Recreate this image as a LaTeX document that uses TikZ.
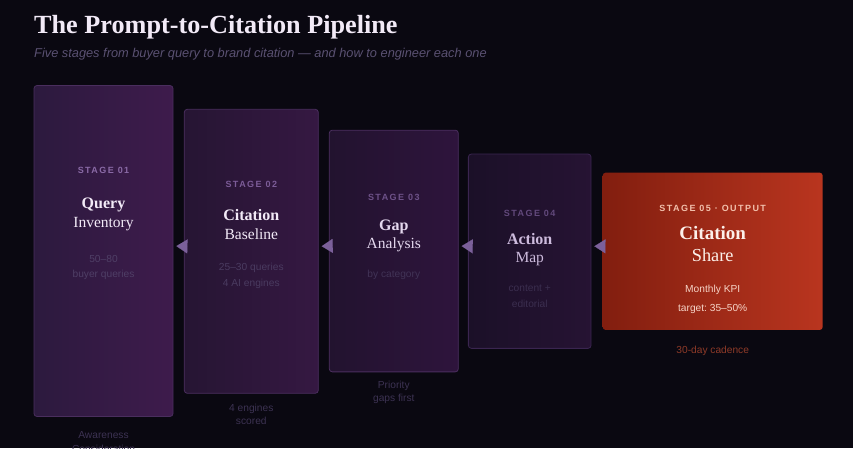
\documentclass[tikz,border=0pt]{standalone}
\usepackage{fontspec}
\setmainfont{Liberation Serif}
\setsansfont{Liberation Sans}
\usepackage{xcolor}
\usetikzlibrary{arrows.meta}
\frenchspacing

\definecolor{bg}{HTML}{0A0811}
\definecolor{headc}{HTML}{F2EAF7}
\definecolor{subc}{HTML}{5A5172}
\definecolor{arrowc}{HTML}{7B609A}
\definecolor{footc}{HTML}{3C3252}
\definecolor{edgec}{HTML}{4A2E5E}
% stage fills
\definecolor{oneL}{HTML}{2C1A3E}   \definecolor{oneR}{HTML}{3E1B4C}
\definecolor{twoL}{HTML}{261533}   \definecolor{twoR}{HTML}{351842}
\definecolor{threeL}{HTML}{22132F} \definecolor{threeR}{HTML}{2E143C}
\definecolor{fourL}{HTML}{1B1028}  \definecolor{fourR}{HTML}{261333}
\definecolor{fiveL}{HTML}{821E0F}  \definecolor{fiveR}{HTML}{B9351F}
\definecolor{fouredge}{HTML}{3A2550}
% stage texts
\definecolor{tagone}{HTML}{8A6AA6}   \definecolor{tagtwo}{HTML}{7C5C98}
\definecolor{tagthree}{HTML}{6E5289} \definecolor{tagfour}{HTML}{62497C}
\definecolor{tagfive}{HTML}{F2C0AC}
\definecolor{noteone}{HTML}{4F3F66}   \definecolor{notetwo}{HTML}{4A3B60}
\definecolor{notethree}{HTML}{413356} \definecolor{notefour}{HTML}{3B2E4F}
\definecolor{notefive}{HTML}{F6D3C6}
\definecolor{namethree}{HTML}{E4D8EE} \definecolor{namefour}{HTML}{CDBBDD}
\definecolor{namefive}{HTML}{FCF0EA}  \definecolor{footfive}{HTML}{8E3A28}

\tikzset{
  stagebox/.style={draw=edgec, line width=0.8pt, rounded corners=3pt, inner sep=0pt},
  stagetag/.style={anchor=base, font=\sffamily\bfseries\fontsize{9}{9}\selectfont\addfontfeatures{LetterSpace=16}},
  stagename/.style={anchor=base, font=\bfseries\fontsize{16}{16}\selectfont},
  stagesub/.style={anchor=base, font=\fontsize{15.5}{15.5}\selectfont},
  stagenote/.style={anchor=base, font=\sffamily\fontsize{10.2}{10.2}\selectfont},
  flow/.style={-{Triangle[length=11pt,width=14pt]}, draw=arrowc, fill=arrowc, line width=0.01pt, shorten >=3pt}
}

\begin{document}
\begin{tikzpicture}[x=1pt, y=-1pt]
    % Background
    \fill[bg] (0,0) rectangle (853,448);
    \useasboundingbox (0,0) rectangle (853,448);

    % Title
    \node[anchor=base west, inner sep=0pt, text=headc, font=\bfseries\fontsize{26.2}{26.2}\selectfont] (title) at (34,33) {The Prompt-to-Citation Pipeline};
    \node[anchor=base west, inner sep=0pt, text=subc, font=\sffamily\itshape\fontsize{12.8}{12.8}\selectfont] (subtitle) at (34,57) {Five stages from buyer query to brand citation --- and how to engineer each one};

    % Stage 01
    \node[stagebox, left color=oneL, right color=oneR, minimum width=139pt, minimum height=331pt] (b1) at (103.5,251) {};
    \node[stagetag, text=tagone] (t1) at (103.5,173) {STAGE 01};
    \node[stagename, text=headc] (n1) at (103.5,208) {Query};
    \node[stagesub, text=headc] (s1) at (103.5,227) {Inventory};
    \node[stagenote, text=noteone] (d1a) at (103.5,262) {50--80};
    \node[stagenote, text=noteone] (d1b) at (103.5,277) {buyer queries};
    \node[stagenote, text=footc] (f1a) at (103.5,438) {Awareness};
    \node[stagenote, text=footc] (f1b) at (103.5,452) {Consideration};

    % Stage 02
    \node[stagebox, left color=twoL, right color=twoR, minimum width=134pt, minimum height=284pt] (b2) at (251.3,251.3) {};
    \node[stagetag, text=tagtwo] (t2) at (251.3,187.5) {STAGE 02};
    \node[stagename, text=headc] (n2) at (251.3,220) {Citation};
    \node[stagesub, text=headc] (s2) at (251.3,239) {Baseline};
    \node[stagenote, text=notetwo] (d2a) at (251.3,270) {25--30 queries};
    \node[stagenote, text=notetwo] (d2b) at (251.3,286) {4 AI engines};
    \node[stagenote, text=footc] (f2a) at (251.3,411.5) {4 engines};
    \node[stagenote, text=footc] (f2b) at (251.3,424.5) {scored};

    % Stage 03
    \node[stagebox, left color=threeL, right color=threeR, minimum width=129pt, minimum height=241.7pt] (b3) at (393.8,251) {};
    \node[stagetag, text=tagthree] (t3) at (393.8,200) {STAGE 03};
    \node[stagename, text=namethree] (n3) at (393.8,230) {Gap};
    \node[stagesub, text=namethree] (s3) at (393.8,248) {Analysis};
    \node[stagenote, text=notethree] (d3) at (393.8,277) {by category};
    \node[stagenote, text=footc] (f3a) at (393.8,388) {Priority};
    \node[stagenote, text=footc] (f3b) at (393.8,401) {gaps first};

    % Stage 04
    \node[stagebox, draw=fouredge, left color=fourL, right color=fourR, minimum width=122.7pt, minimum height=194.3pt] (b4) at (529.7,251.2) {};
    \node[stagetag, text=tagfour] (t4) at (529.7,216) {STAGE 04};
    \node[stagename, text=namefour] (n4) at (529.7,244) {Action};
    \node[stagesub, text=namefour] (s4) at (529.7,262) {Map};
    \node[stagenote, text=notefour] (d4a) at (529.7,291) {content +};
    \node[stagenote, text=notefour] (d4b) at (529.7,307) {editorial};

    % Stage 05
    \node[stagebox, draw=none, left color=fiveL, right color=fiveR, minimum width=220pt, minimum height=157.3pt] (b5) at (712.7,251.3) {};
    \node[stagetag, text=tagfive] (t5) at (712.7,211) {STAGE 05 · OUTPUT};
    \node[stagename, text=namefive, font=\bfseries\fontsize{19}{19}\selectfont] (n5) at (712.7,239) {Citation};
    \node[stagesub, text=namefive, font=\fontsize{18.3}{18.3}\selectfont] (s5) at (712.7,261) {Share};
    \node[stagenote, text=notefive] (d5a) at (712.7,292) {Monthly KPI};
    \node[stagenote, text=notefive] (d5b) at (712.7,311) {target: 35--50\%};
    \node[stagenote, text=footfive] (f5) at (712.7,353) {30-day cadence};

    % Arrows
    \draw[flow] ([yshift=5pt]b2.west) -- ([yshift=5pt]b1.east);
    \draw[flow] ([yshift=5pt]b3.west) -- ([yshift=5pt]b2.east);
    \draw[flow] ([yshift=5pt]b4.west) -- ([yshift=5pt]b3.east);
    \draw[flow] ([yshift=5pt]b5.west) -- ([yshift=5pt]b4.east);
\end{tikzpicture}
\end{document}
